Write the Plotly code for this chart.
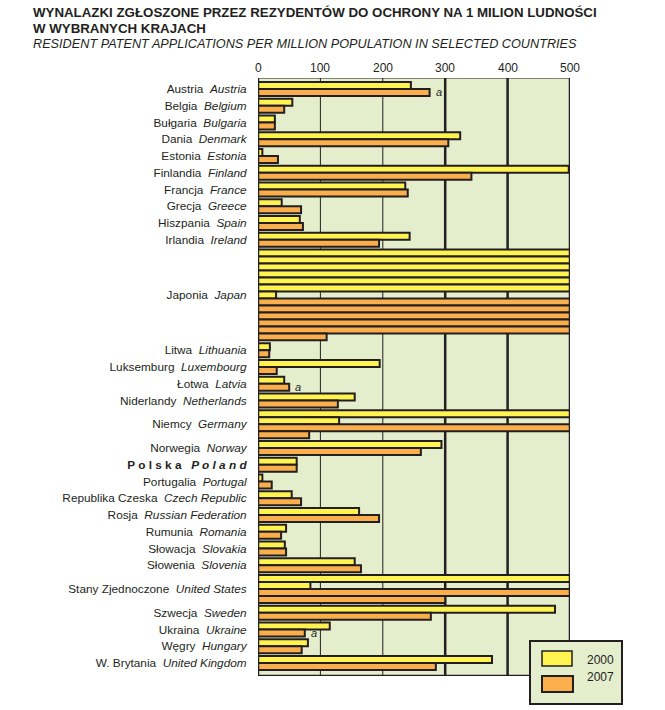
import plotly.graph_objects as go

# ---------------- data ----------------
names_pl = ["Austria", "Belgia", "Bułgaria", "Dania", "Estonia", "Finlandia", "Francja",
            "Grecja", "Hiszpania", "Irlandia", "Japonia", "Litwa", "Luksemburg", "Łotwa",
            "Niderlandy", "Niemcy", "Norwegia", "Polska", "Portugalia", "Republika Czeska",
            "Rosja", "Rumunia", "Słowacja", "Słowenia", "Stany Zjednoczone", "Szwecja",
            "Ukraina", "Węgry", "W. Brytania"]
names_en = ["Austria", "Belgium", "Bulgaria", "Denmark", "Estonia", "Finland", "France",
            "Greece", "Spain", "Ireland", "Japan", "Lithuania", "Luxembourg", "Latvia",
            "Netherlands", "Germany", "Norway", "Poland", "Portugal", "Czech Republic",
            "Russian Federation", "Romania", "Slovakia", "Slovenia", "United States", "Sweden",
            "Ukraine", "Hungary", "United Kingdom"]
values_2000 = [245, 55, 27, 324, 7, 498, 236, 38, 67, 243, 3029, 19, 195, 42, 155, 630,
               294, 62, 7, 54, 162, 45, 43, 155, 584, 476, 115, 80, 375]
values_2007 = [275, 42, 27, 305, 32, 342, 240, 69, 72, 194, 2610, 18, 30, 50, 128, 582,
               261, 62, 22, 69, 194, 37, 45, 165, 800, 277, 75, 70, 285]
notes_2007 = ["Ukraina", "Austria", "Łotwa"]   # countries with footnote "a" on 2007 bar
x_ticks = [0, 100, 200, 300, 400, 500]
axis_max = 500

# ---------------- layout helpers ----------------
GAP = 0.4
PAD_TOP = 0.57
PAD_BOTTOM = 0.86
YELLOW = "#FFF350"
ORANGE = "#FBAF4C"
BG = "#E4EECD"
INK = "#231F20"

def wrap(v):
    rows = []
    while v > axis_max:
        rows.append(axis_max)
        v -= axis_max
    rows.append(v)
    return rows

y00, x00, y07, x07 = [], [], [], []
tickvals, ticktext = [], []
notes = []
pos = 0.0
for i, (pl, en) in enumerate(zip(names_pl, names_en)):
    if i > 0:
        pos += GAP
    start = pos
    for v in wrap(values_2000[i]):
        y00.append(pos + 0.5); x00.append(v); pos += 1
    last07 = None
    for v in wrap(values_2007[i]):
        y07.append(pos + 0.5); x07.append(v); last07 = (v, pos + 0.5); pos += 1
    if pl in notes_2007:
        notes.append(last07)
    tickvals.append((start + pos) / 2)
    if pl == "Polska":
        ticktext.append("<b>" + " ".join("Polska") + "\u00a0\u00a0\u00a0<i>" + " ".join("Poland") + "</i></b>")
    else:
        ticktext.append(pl + "\u00a0\u00a0<i>" + en + "</i>")
total = pos

fig = go.Figure()
fig.add_trace(go.Bar(x=x00, y=y00, orientation="h", width=1, base=0,
                     marker=dict(color=YELLOW, line=dict(color=INK, width=2)),
                     showlegend=False, hoverinfo="skip"))
fig.add_trace(go.Bar(x=x07, y=y07, orientation="h", width=1, base=0,
                     marker=dict(color=ORANGE, line=dict(color=INK, width=2)),
                     showlegend=False, hoverinfo="skip"))

ytop, ybot = -PAD_TOP, total + PAD_BOTTOM
shapes = []
for t in x_ticks[1:-1]:
    shapes.append(dict(type="line", xref="x", yref="y", x0=t, x1=t, y0=ytop, y1=ybot,
                       line=dict(color=INK, width=1 if t < 300 else 2.5), layer="below"))
# frame
shapes += [
    dict(type="line", xref="x", yref="y", x0=0, x1=0, y0=ytop, y1=ybot, line=dict(color=INK, width=2.5)),
    dict(type="line", xref="x", yref="y", x0=axis_max, x1=axis_max, y0=ytop, y1=ybot, line=dict(color=INK, width=2.5)),
    dict(type="line", xref="x", yref="y", x0=0, x1=axis_max, y0=ybot, y1=ybot, line=dict(color=INK, width=2.5)),
    dict(type="line", xref="x", yref="y", x0=0, x1=axis_max, y0=ytop, y1=ytop, line=dict(color=INK, width=1.2)),
]

# plot area in page pixels: x 258..570, y 78..676
L, R, T, B = 258, 570, 78, 676
def px(x):
    return (x - L) / (R - L)
def py(y):
    return (B - y) / (B - T)

# legend box
shapes += [
    dict(type="rect", xref="paper", yref="paper", x0=px(530), x1=px(622), y0=py(704), y1=py(641),
         fillcolor=BG, line=dict(color=INK, width=2)),
    dict(type="rect", xref="paper", yref="paper", x0=px(542), x1=px(572), y0=py(666), y1=py(651),
         fillcolor=YELLOW, line=dict(color=INK, width=1.5)),
    dict(type="rect", xref="paper", yref="paper", x0=px(542), x1=px(573), y0=py(692), y1=py(676),
         fillcolor=ORANGE, line=dict(color=INK, width=2)),
]

FONT = "Liberation Sans, Arial, sans-serif"
annotations = [
    dict(xref="paper", yref="paper", x=px(585), y=py(660), text="2000", showarrow=False,
         xanchor="left", yanchor="middle", font=dict(size=12, color=INK, family=FONT)),
    dict(xref="paper", yref="paper", x=px(585), y=py(677), text="2007", showarrow=False,
         xanchor="left", yanchor="middle", font=dict(size=12, color=INK, family=FONT)),
    dict(xref="paper", yref="paper", x=px(31), y=py(13),
         text="<b>WYNALAZKI ZGŁOSZONE PRZEZ REZYDENTÓW DO OCHRONY NA 1 MILION LUDNOŚCI</b>",
         showarrow=False, xanchor="left", yanchor="middle", font=dict(size=13.3, color=INK, family=FONT)),
    dict(xref="paper", yref="paper", x=px(31), y=py(28), text="<b>W WYBRANYCH KRAJACH</b>",
         showarrow=False, xanchor="left", yanchor="middle", font=dict(size=13.3, color=INK, family=FONT)),
    dict(xref="paper", yref="paper", x=px(31), y=py(44),
         text="<i>RESIDENT PATENT APPLICATIONS PER MILLION POPULATION IN SELECTED COUNTRIES</i>",
         showarrow=False, xanchor="left", yanchor="middle", font=dict(size=12.7, color=INK, family=FONT)),
]
for t in x_ticks:
    annotations.append(dict(xref="x", yref="paper", x=t, y=py(68), text=str(t), showarrow=False,
                            xanchor="center", yanchor="middle",
                            font=dict(size=12, color=INK, family=FONT)))
for v, yc in notes:
    annotations.append(dict(xref="x", yref="y", x=v, y=yc, text="<i>a</i>", showarrow=False,
                            xanchor="left", yanchor="middle", xshift=4,
                            font=dict(size=11, color=INK, family=FONT)))

fig.update_layout(
    width=665, height=710,
    margin=dict(l=L, r=665 - R, t=T, b=710 - B, pad=0),
    paper_bgcolor="white", plot_bgcolor=BG,
    bargap=0, barmode="overlay",
    shapes=shapes, annotations=annotations,
    font=dict(family=FONT, color=INK),
    xaxis=dict(range=[0, axis_max], side="top", showticklabels=False,
               showgrid=False, zeroline=False, showline=False, ticks="", fixedrange=True),
    yaxis=dict(range=[ybot, ytop], tickvals=tickvals, ticktext=ticktext, showgrid=False,
               zeroline=False, showline=False, ticks="outside", ticklen=8,
               tickcolor="rgba(0,0,0,0)", tickfont=dict(size=11.8, color=INK), fixedrange=True),
)

fig.write_html("out.html", config={"displayModeBar": False, "staticPlot": True},
               post_script="document.body.style.margin='0';document.body.style.overflow='hidden';")
